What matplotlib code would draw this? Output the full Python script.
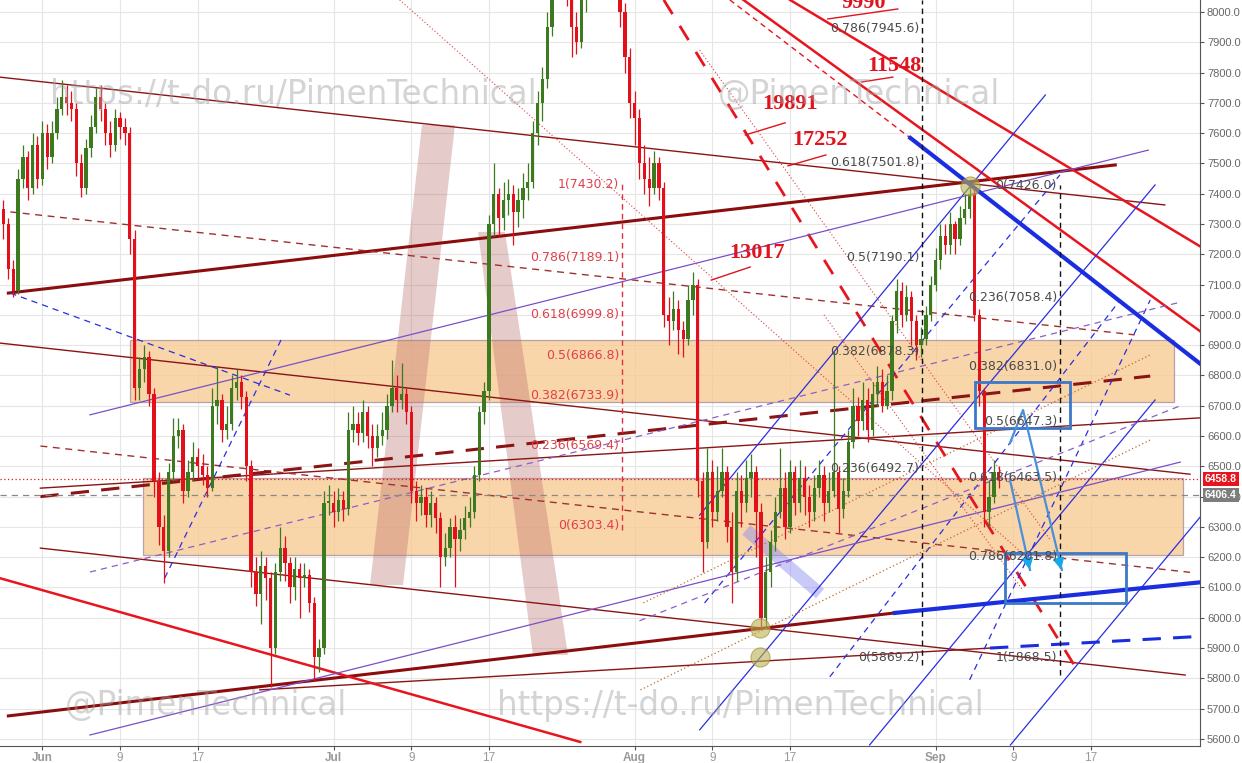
import matplotlib
matplotlib.use("Agg")
import matplotlib.pyplot as plt
import numpy as np
from matplotlib.patches import Polygon, Rectangle
import matplotlib.transforms as mtransforms

# 12h candles, x = days from Jun 1
start_day = -4.0
first_open = 7350
closes = [7300, 7150, 7080, 7450, 7520, 7420, 7560, 7450, 7600, 7520,
          7600, 7680, 7720, 7700, 7680, 7500, 7420, 7550, 7620, 7720,
          7680, 7600, 7560, 7650, 7620, 7600, 7250, 6760, 6820, 6860,
          6740, 6450, 6300, 6220, 6480, 6600, 6620, 6420, 6480, 6530,
          6500, 6470, 6430, 6700, 6720, 6620, 6640, 6760, 6780, 6730,
          6500, 6150, 6080, 6170, 6130, 5900, 6150, 6230, 6180, 6100,
          6160, 6130, 6140, 6050, 5870, 5900, 6380, 6380, 6350, 6390,
          6360, 6620, 6640, 6610, 6680, 6600, 6560, 6600, 6620, 6700,
          6760, 6720, 6740, 6680, 6420, 6380, 6400, 6340, 6380, 6330,
          6200, 6230, 6300, 6260, 6290, 6330, 6350, 6470, 6680, 6750,
          7300, 7400, 7320, 7380, 7400, 7340, 7380, 7420, 7440, 7600,
          7700, 7780, 7950, 8100, 8200, 8150, 8100, 7950, 7900, 8050,
          8120, 8200, 8250, 8150, 8200, 8100, 8150, 8000, 7850, 7700,
          7650, 7500, 7450, 7420, 7500, 7420, 7000, 6980, 7020, 6950,
          6920, 7050, 7100, 6450, 6250, 6480, 6350, 6420, 6480, 6300,
          6150, 6420, 6380, 6460, 6480, 6350, 6000, 6150, 6250, 6350,
          6430, 6300, 6480, 6380, 6460, 6400, 6350, 6430, 6470, 6380,
          6420, 6480, 6360, 6420, 6580, 6700, 6650, 6720, 6620, 6740,
          6780, 6700, 6750, 6980, 7080, 7000, 7060, 6980, 6900, 6920,
          7000, 7100, 7180, 7260, 7230, 7300, 7250, 7320, 7350, 7400,
          7000, 6750, 6350, 6400, 6480, 6459]
highs = [7380, 7320, 7180, 7480, 7560, 7540, 7600, 7590, 7640, 7630,
         7640, 7720, 7775, 7760, 7740, 7700, 7530, 7580, 7660, 7750,
         7760, 7700, 7640, 7680, 7670, 7650, 7620, 7280, 6860, 6900,
         6880, 6760, 6480, 6340, 6510, 6660, 6660, 6640, 6520, 6580,
         6560, 6540, 6500, 6760, 6830, 6740, 6700, 6800, 6820, 6800,
         6750, 6520, 6200, 6220, 6200, 6150, 6180, 6300, 6270, 6200,
         6200, 6180, 6180, 6160, 6070, 5930, 6420, 6440, 6420, 6430,
         6420, 6680, 6700, 6680, 6720, 6700, 6640, 6640, 6680, 6740,
         6850, 6800, 6840, 6760, 6700, 6450, 6440, 6430, 6420, 6400,
         6350, 6280, 6330, 6340, 6330, 6370, 6400, 6500, 6700, 6780,
         7330, 7500, 7420, 7440, 7450, 7430, 7420, 7470, 7500, 7640,
         7740, 7820, 8000, 8150, 8250, 8240, 8200, 8130, 8000, 8100,
         8180, 8260, 8300, 8280, 8250, 8230, 8200, 8170, 8030, 7880,
         7740, 7680, 7560, 7520, 7540, 7520, 7440, 7060, 7080, 7050,
         6980, 7100, 7140, 7120, 6480, 6560, 6520, 6500, 6560, 6500,
         6350, 6480, 6470, 6520, 6540, 6500, 6380, 6200, 6290, 6400,
         6560, 6480, 6520, 6500, 6520, 6500, 6440, 6470, 6520, 6500,
         6480, 6880, 6500, 6460, 6620, 6760, 6730, 6780, 6760, 6780,
         6830, 6820, 6800, 7000, 7120, 7110, 7100, 7080, 7000, 6960,
         7030, 7130, 7220, 7300, 7300, 7340, 7310, 7360, 7400, 7430,
         7420, 7020, 6760, 6450, 6520, 6500]
lows = [7250, 7120, 7060, 7070, 7420, 7380, 7400, 7420, 7430, 7480,
        7500, 7580, 7660, 7660, 7640, 7460, 7390, 7400, 7520, 7600,
        7640, 7560, 7520, 7540, 7580, 7560, 7200, 6720, 6720, 6780,
        6700, 6400, 6240, 6115, 6200, 6450, 6560, 6380, 6400, 6450,
        6460, 6440, 6400, 6420, 6640, 6580, 6590, 6620, 6720, 6690,
        6450, 6100, 6040, 5980, 6060, 5770, 5880, 6120, 6120, 6050,
        6060, 6000, 6100, 6020, 5790, 5820, 5880, 6340, 6300, 6320,
        6320, 6340, 6580, 6570, 6580, 6560, 6500, 6530, 6570, 6590,
        6680, 6680, 6690, 6640, 6380, 6320, 6340, 6300, 6300, 6280,
        6100, 6170, 6200, 6100, 6220, 6260, 6300, 6330, 6450, 6640,
        6720, 7260, 7260, 7280, 7330, 7230, 7290, 7320, 7380, 7420,
        7560, 7640, 7750, 7920, 8050, 8100, 8020, 7850, 7860, 7880,
        8000, 8080, 8150, 8100, 8100, 8050, 8050, 7950, 7800, 7650,
        7560, 7450, 7400, 7360, 7400, 7380, 6960, 6900, 6950, 6870,
        6860, 6900, 7000, 6400, 6150, 6230, 6300, 6320, 6400, 6250,
        6050, 6120, 6300, 6350, 6400, 6200, 5960, 5970, 6100, 6220,
        6330, 6260, 6280, 6340, 6350, 6340, 6300, 6320, 6400, 6320,
        6350, 6400, 6280, 6330, 6400, 6560, 6600, 6620, 6580, 6600,
        6700, 6680, 6690, 6720, 6940, 6960, 6980, 6900, 6850, 6860,
        6900, 6980, 7080, 7150, 7200, 7200, 7200, 7230, 7300, 7320,
        6980, 6700, 6300, 6300, 6380, 6430]

tick_days = [0, 8, 16, 30, 38, 46, 61, 69, 77, 92, 100, 108]
tick_labels = ["Jun", "9", "17", "Jul", "9", "17", "Aug", "9", "17", "Sep", "9", "17"]

last_price = 6458.8
mark_price = 6406.4

# drawn trendlines (day, price) -> (day, price)
darkred_thin = [(-4.4, 7785, 115.6, 7363), (-4.4, 6907, 118.2, 6474),
                (-0.2, 6428, 119.2, 6660), (-0.2, 6230, 117.7, 5811),
                (22.4, 5762, 97.6, 5900)]
darkred_thick = [(-3.5, 7072, 110.5, 7495), (-3.5, 5676, 87.8, 6016)]
darkred_dash = [(-3.3, 7340, 112.5, 6934), (-0.2, 6567, 118.2, 6150)]
darkred_dash_thick = [(-0.2, 6400, 114.1, 6798)]
red_thick = [(-4.4, 6131, 55.4, 5590), (77.0, 8040, 119.2, 7227),
             (72.2, 8040, 119.2, 6947)]
red_dash_thick = [(64.0, 8040, 106.9, 5811)]
red_dash_thin = [(70.8, 8040, 89.4, 7584)]
red_dotted = [(36.8, 8040, 101.7, 6191), (67.7, 7874, 103.8, 6257),
              (80.5, 7000, 101.0, 6090)]
blue_thick = [(89.4, 7584, 123.6, 6730), (87.8, 6016, 123.6, 6131)]
blue_dash_thick = [(97.6, 5900, 122.3, 5944)]
blue_thin = [(67.7, 6339, 103.3, 7726), (67.7, 5630, 114.6, 7429),
             (85.2, 5580, 114.6, 6719), (99.7, 5580, 123.6, 6500)]
blue_dash = [(-3.3, 7072, 25.5, 6735), (12.6, 6131, 24.7, 6925),
             (68.2, 6049, 104.8, 7462), (81.1, 5805, 111.0, 7049),
             (95.5, 5795, 114.1, 7049)]
purple_thin = [(4.9, 6670, 113.9, 7544), (4.9, 5613, 117.2, 6514)]
purple_dash = [(4.9, 6151, 117.2, 7042), (61.5, 5990, 117.2, 6700)]
brown_dotted = [(61.9, 6049, 114.1, 6868), (61.6, 5762, 114.1, 6587)]

zones = [(9.0, 6712.5, 116.6, 6917.1), (10.4, 6207.3, 117.5, 6461.5)]
pink_bands = [[(33.75, 6108), (37.15, 6108), (42.5, 7627), (39.1, 7627)],
              [(44.87, 7274), (47.65, 7274), (54.13, 5877), (50.53, 5877)]]
blue_band = (72.5, 6290, 80.1, 6080)
circles_d = [73.9, 73.9, 95.5]
circles_p = [5966, 5871, 7426]
boxes = [(96.1, 6626.6, 105.8, 6778.5), (99.1, 6048.9, 111.6, 6214)]

fib_red = ["1(7430.2)", "0.786(7189.1)", "0.618(6999.8)", "0.5(6866.8)",
           "0.382(6733.9)", "0.236(6569.4)", "0(6303.4)"]
fib_red_p = [7430.2, 7189.1, 6999.8, 6866.8, 6733.9, 6569.4, 6303.4]
fib_mid = ["0.786(7945.6)", "0.618(7501.8)", "0.5(7190.1)", "0.382(6878.3)",
           "0.236(6492.7)", "0(5869.2)"]
fib_mid_p = [7945.6, 7501.8, 7190.1, 6878.3, 6492.7, 5869.2]
fib_right = ["0(7426.0)", "0.236(7058.4)", "0.382(6831.0)", "0.5(6647.3)",
             "0.618(6463.5)", "0.786(6201.8)", "1(5868.5)"]
fib_right_p = [7426.0, 7058.4, 6831.0, 6647.3, 6463.5, 6201.8, 5868.5]

targets = ["9990", "11548", "19891", "17252", "13017"]
targets_d = [84.6, 87.8, 77.0, 80.1, 73.6]
targets_p = [8030, 7822, 7697, 7578, 7204]
target_marks = [(80.9, 7977, 88.1, 8010), (84.4, 7769, 87.6, 7785),
                (72.4, 7594, 76.5, 7634), (76.8, 7492, 80.7, 7528),
                (68.9, 7115, 72.9, 7158)]

fig = plt.figure(figsize=(12.42, 7.63), dpi=100)
ax = fig.add_axes([0, 0.0223, 0.9662, 0.9777])
ax.set_xlim(-4.36, 119.23)
ax.set_ylim(5576.7, 8039.6)

# grid
for d in tick_days:
    ax.axvline(d, color="#e6e6e6", lw=0.8, zorder=0)
for p in range(5600, 8100, 100):
    ax.axhline(p, color="#e6e6e6", lw=0.8, zorder=0)

for d1, p1, d2, p2 in zones:
    ax.add_patch(Rectangle((d1, p1), d2 - d1, p2 - p1, facecolor="#f8c88e",
                           alpha=0.75, edgecolor="#a08a9a", lw=0.9, zorder=1))
for pts in pink_bands:
    ax.add_patch(Polygon(pts, closed=True, facecolor="#b86a6a", alpha=0.35,
                         edgecolor="none", zorder=1.5))
ax.plot(blue_band[::2], blue_band[1::2], color="#8a8af0", alpha=0.45, lw=9,
        solid_capstyle="butt", zorder=1.5)


def draw(group, **kw):
    for d1, p1, d2, p2 in group:
        ax.plot([d1, d2], [p1, p2], zorder=2, **kw)


draw(darkred_thin, color="#8b1414", lw=1.0)
draw(darkred_thick, color="#8b0d0d", lw=2.2)
draw(darkred_dash, color="#a03030", lw=1.0, dashes=(5, 4))
draw(darkred_dash_thick, color="#8b1414", lw=2.2, dashes=(6, 4))
draw(red_thick, color="#e8141e", lw=1.8)
draw(red_dash_thick, color="#e8141e", lw=2.0, dashes=(6, 5))
draw(red_dash_thin, color="#e8141e", lw=1.0, dashes=(4, 3))
draw(red_dotted, color="#e04040", lw=0.8, dashes=(1, 2))
draw(blue_thin, color="#2a2ee0", lw=0.9)
draw(blue_dash, color="#2a2ee0", lw=0.9, dashes=(5, 4))
draw(purple_thin, color="#7a4fc8", lw=0.9)
draw(purple_dash, color="#8a60c8", lw=0.9, dashes=(5, 4))
draw(brown_dotted, color="#c06a2a", lw=0.9, dashes=(1, 2))
draw(blue_thick, color="#1a2ee0", lw=3.0)
draw(blue_dash_thick, color="#1a2ee0", lw=2.2, dashes=(6, 4))

ax.axhline(mark_price, color="#888888", lw=0.9, dashes=(5, 4), zorder=2)
ax.axhline(last_price, color="#e8141e", lw=0.9, dashes=(1, 2), zorder=2)
ax.plot([90.6, 90.6], [5844, 8040], color="#111111", lw=1.0, dashes=(4, 3), zorder=2)
ax.plot([104.8, 104.8], [5811, 7429], color="#111111", lw=1.0, dashes=(4, 3), zorder=2)
ax.plot([59.7, 59.7], [6290, 7440], color="#e03040", lw=1.0, dashes=(4, 3), zorder=2)

# candles
closes_a = np.array(closes, dtype=float)
opens_a = np.concatenate([[first_open], closes_a[:-1]])
days = start_day + 0.5 * np.arange(len(closes_a))
cols = np.where(closes_a >= opens_a, "#3d7a1f", "#e3101b")
ax.vlines(days, lows, highs, colors=cols, lw=0.9, zorder=3)
ax.bar(days, np.maximum(np.abs(closes_a - opens_a), 6),
       bottom=np.minimum(opens_a, closes_a), width=0.34, color=cols,
       linewidth=0, zorder=3.1)

ax.scatter(circles_d, circles_p, s=190, color="#b9b24e", alpha=0.6,
           edgecolors="#9a8a30", linewidths=0.8, zorder=4)

for d1, p1, d2, p2 in boxes:
    ax.add_patch(Rectangle((d1, p1), d2 - d1, p2 - p1, facecolor="none",
                           edgecolor="#3a78c8", lw=2.0, zorder=4))
ax.plot([99.66, 101.0, 105.0], [6577, 6686, 6158], color="#4a8fd8", lw=1.6, zorder=4)
ax.plot([99.66, 101.72], [6455, 6158], color="#4a8fd8", lw=1.6, zorder=4)
ax.annotate("", xy=(105.0, 6150), xytext=(104.7, 6190),
            arrowprops=dict(arrowstyle="-|>", color="#16a8e8", lw=1.5,
                            mutation_scale=16), zorder=4)
ax.annotate("", xy=(101.72, 6150), xytext=(101.5, 6190),
            arrowprops=dict(arrowstyle="-|>", color="#16a8e8", lw=1.5,
                            mutation_scale=16), zorder=4)

fkw = dict(fontsize=9, ha="right", va="center", zorder=5)
for t, p in zip(fib_red, fib_red_p):
    ax.text(59.4, p, t, color="#e0404a", **fkw)
for t, p in zip(fib_mid, fib_mid_p):
    ax.text(90.3, p, t, color="#4a4a4a", **fkw)
for t, p in zip(fib_right, fib_right_p):
    ax.text(104.5, p, t, color="#4a4a4a", **fkw)

for t, d, p in zip(targets, targets_d, targets_p):
    ax.text(d, p, t, color="#e0141e", fontsize=16, fontweight="bold",
            family="Liberation Serif", ha="center", va="center", zorder=5)
draw(target_marks, color="#e0141e", lw=1.0)

# axes styling
ax.set_facecolor("white")
for s in ["top", "left"]:
    ax.spines[s].set_visible(False)
for s in ["right", "bottom"]:
    ax.spines[s].set_color("#555555")
ax.yaxis.tick_right()
ax.set_yticks(range(5600, 8100, 100))
ax.set_yticklabels([f"{v:.1f}" for v in range(5600, 8100, 100)],
                   family="Liberation Sans")
ax.tick_params(axis="y", colors="#555555", labelsize=8, length=3, pad=2,
               labelcolor="#666666")
ax.set_xticks(tick_days)
ax.set_xticklabels(tick_labels, family="Liberation Sans")
ax.tick_params(axis="x", colors="#555555", labelsize=8.5, length=3, pad=1,
               labelcolor="#999999")
for lab in ax.get_xticklabels():
    if lab.get_text() in ("Jun", "Jul", "Aug", "Sep"):
        lab.set_fontweight("bold")

trans = mtransforms.blended_transform_factory(ax.transAxes, ax.transData)
tag = dict(transform=trans, color="white", fontsize=7.5, fontweight="bold",
           family="Liberation Sans", va="center", ha="left", zorder=6, clip_on=False)
ax.text(1.004, last_price, f"{last_price:.1f}",
        bbox=dict(boxstyle="square,pad=0.2", facecolor="#e8141e", edgecolor="none"), **tag)
ax.text(1.004, mark_price, f"{mark_price:.1f}",
        bbox=dict(boxstyle="square,pad=0.2", facecolor="#7d7d7d", edgecolor="none"), **tag)

wm = dict(fontsize=23.5, color="#a0a0a0", alpha=0.45, va="center", ha="left")
fig.text(0.040, 0.876, "https://t-do.ru/PimenTechnical", **wm)
fig.text(0.578, 0.876, "@PimenTechnical", **wm)
fig.text(0.052, 0.076, "@PimenTechnical", **wm)
fig.text(0.400, 0.076, "https://t-do.ru/PimenTechnical", **wm)

fig.savefig("out.png", dpi=100)
